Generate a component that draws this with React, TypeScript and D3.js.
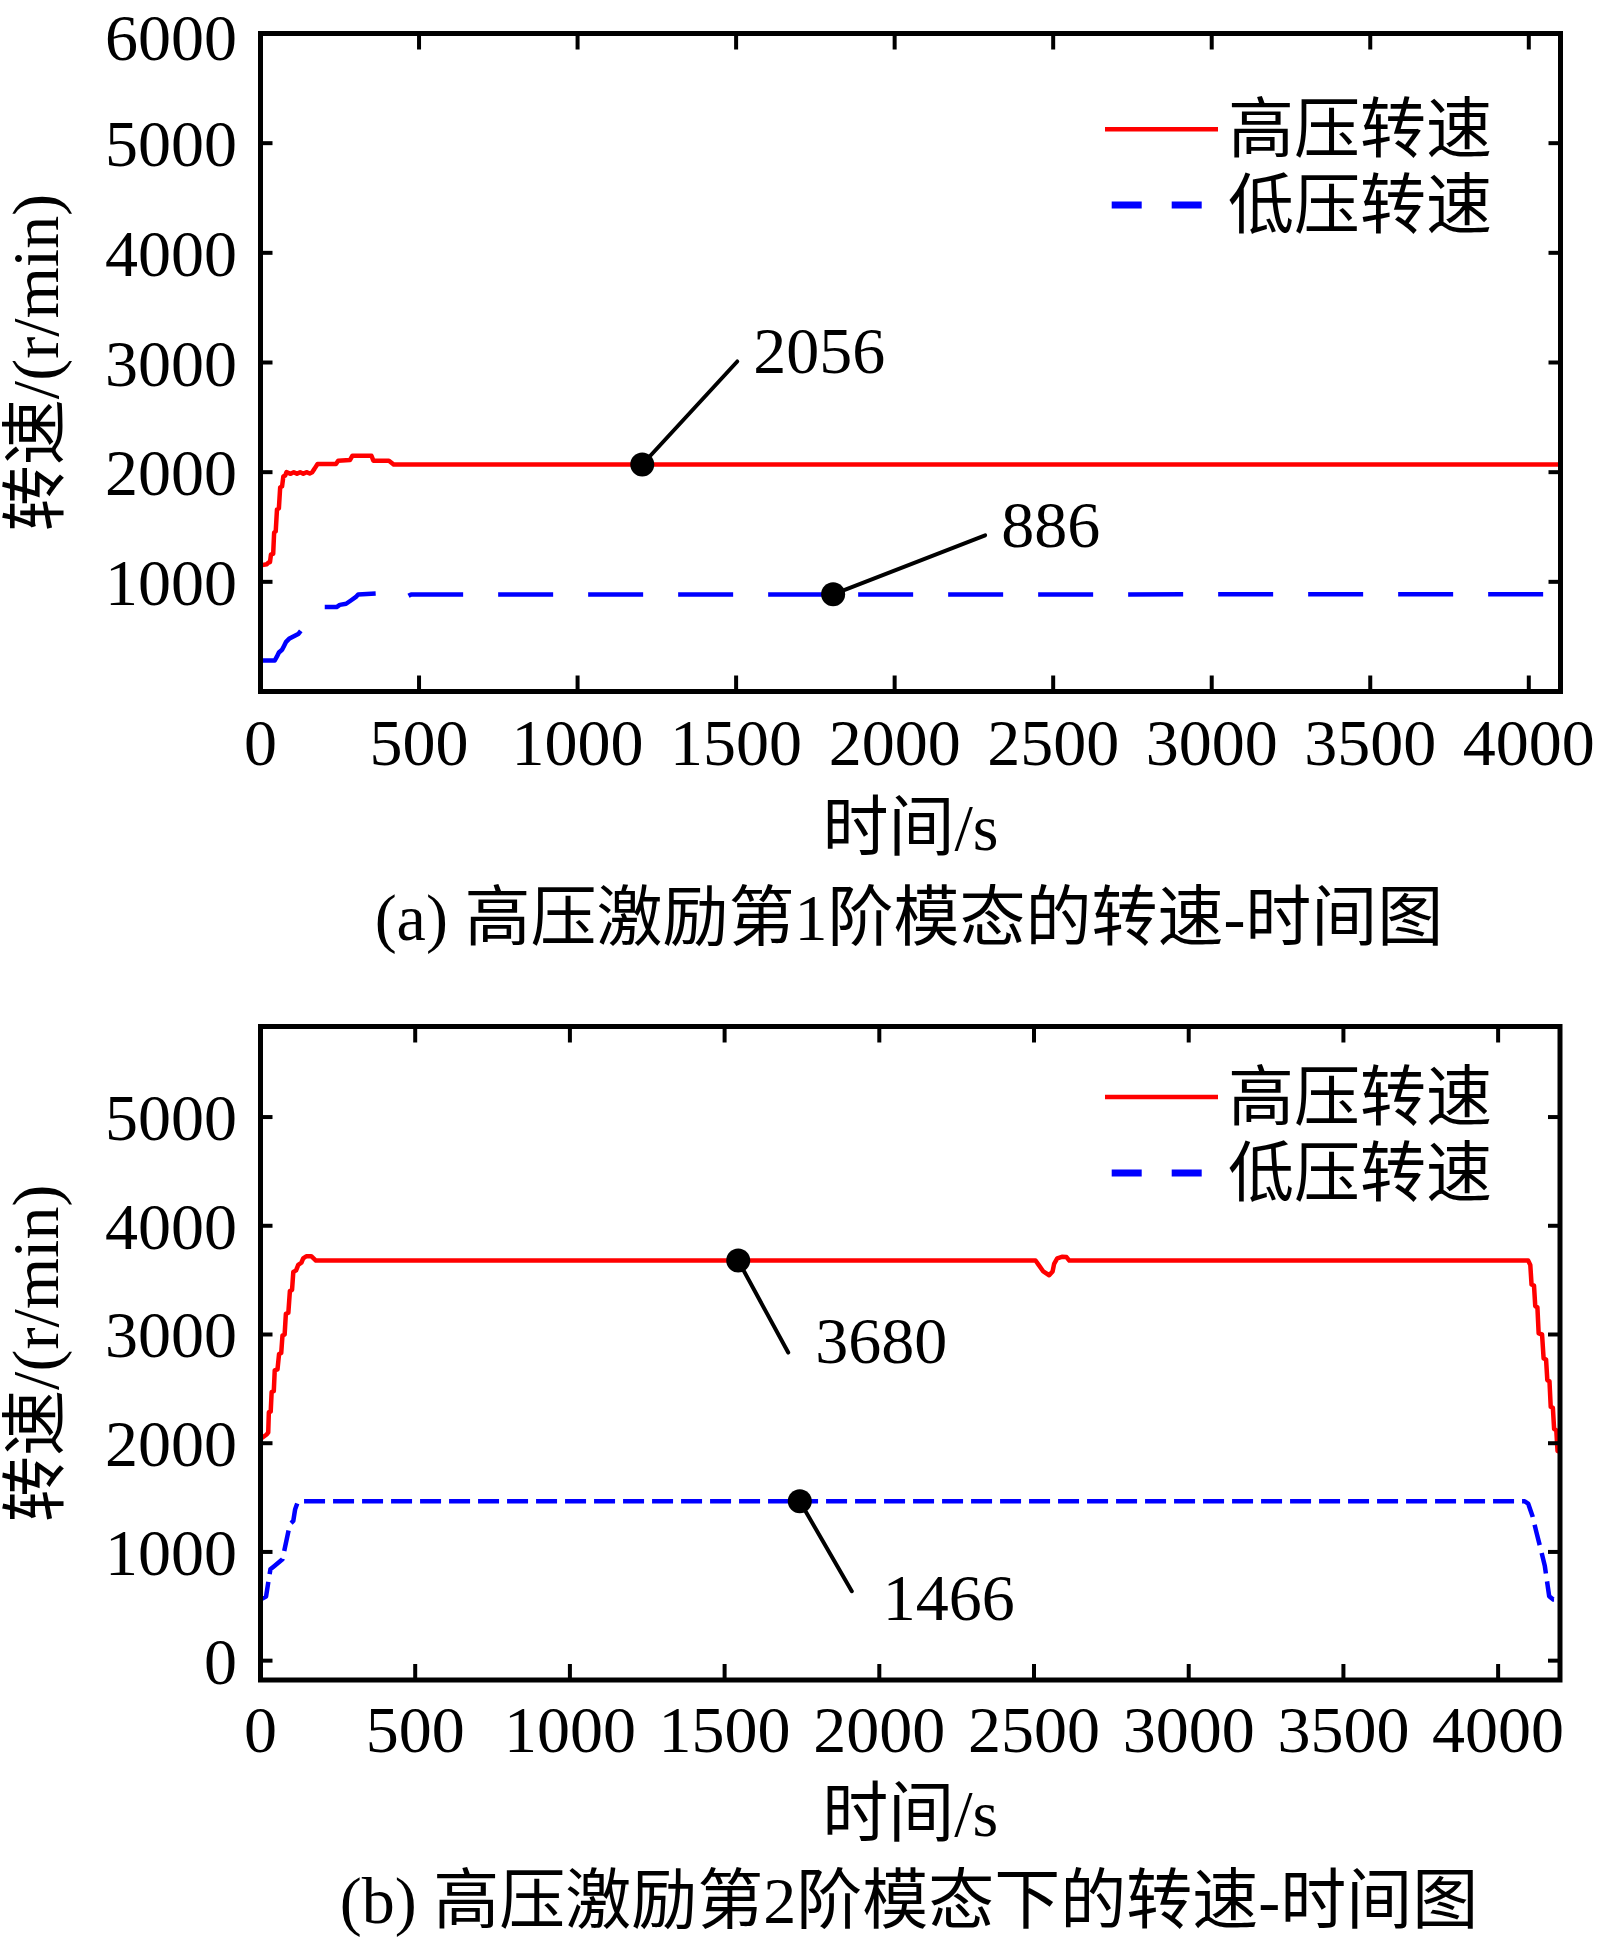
import React from 'react';
import * as d3 from 'd3';

// ---------- data: panel (a) ----------
const hpA_t = [0, 20, 25, 30, 33, 40, 43, 48, 52, 58, 62, 68, 72, 78, 82, 95, 105, 115, 125, 135, 145, 155, 163, 170, 180, 238, 245, 282, 290, 350, 356, 405, 420, 4100];
const hpA_v = [1150, 1160, 1175, 1180, 1250, 1255, 1450, 1460, 1660, 1670, 1860, 1870, 1960, 1970, 2000, 1985, 2000, 1985, 2000, 1985, 2000, 1988, 2000, 2030, 2075, 2075, 2105, 2110, 2150, 2150, 2105, 2105, 2070, 2070];
const lpA_t = [0, 45, 52, 58, 68, 75, 80, 90, 119, 182, 195, 240, 250, 270, 285, 300, 308, 400, 430, 440, 460, 475, 4100];
const lpA_v = [283, 283, 320, 355, 380, 420, 450, 480, 524, 755, 770, 770, 790, 800, 830, 860, 885, 900, 905, 870, 862, 885, 886];

// ---------- data: panel (b) ----------
const hpB_t = [0, 20, 25, 27, 33, 36, 43, 46, 55, 60, 67, 71, 78, 82, 90, 95, 102, 106, 115, 122, 132, 138, 148, 164, 179, 2505, 2515, 2530, 2549, 2560, 2565, 2575, 2590, 2605, 2614, 4097, 4104, 4108, 4116, 4120, 4127, 4131, 4142, 4147, 4155, 4159, 4166, 4170, 4177, 4181, 4188, 4192, 4200];
const hpB_v = [2040, 2080, 2100, 2285, 2290, 2470, 2480, 2670, 2680, 2820, 2830, 2990, 3000, 3190, 3200, 3400, 3410, 3575, 3590, 3640, 3660, 3700, 3720, 3720, 3680, 3680, 3640, 3580, 3545, 3580, 3650, 3700, 3715, 3712, 3680, 3680, 3640, 3460, 3450, 3260, 3250, 3010, 3000, 2780, 2770, 2580, 2570, 2335, 2325, 2130, 2120, 1930, 1920];
const lpB_t = [0, 18, 24, 32, 45, 71, 95, 106, 112, 120, 125, 4086, 4097, 4111, 4124, 4140, 4151, 4165, 4178, 4200];
const lpB_v = [563, 590, 700, 840, 870, 932, 1255, 1285, 1393, 1455, 1466, 1466, 1445, 1331, 1178, 1000, 870, 593, 563, 563];

// ---------- axes ----------
const xDomainA = [0, 4100];
const yDomainA = [0, 6000];
const xDomainB = [0, 4200];
const yDomainB = [-178, 5833];
const xTicks = [0, 500, 1000, 1500, 2000, 2500, 3000, 3500, 4000];
const yTicksA = [0, 1000, 2000, 3000, 4000, 5000, 6000];
const yTickLabelsA = ['', '1000', '2000', '3000', '4000', '5000', '6000'];
const yTicksB = [0, 1000, 2000, 3000, 4000, 5000];
const yTickLabelsB = ['0', '1000', '2000', '3000', '4000', '5000'];

// ---------- text ----------
const legendLabels = ['高压转速', '低压转速'];
const xTitle = '时间/s';
const yTitle = '转速/(r/min)';
const captionA = '(a) 高压激励第1阶模态的转速-时间图';
const captionB = '(b) 高压激励第2阶模态下的转速-时间图';

// ---------- annotations ----------
const annotA_t = [1204, 1806];
const annotA_v = [2070, 886];
const annotA_label = ['2056', '886'];
const annotB_t = [1544, 1743];
const annotB_v = [3680, 1466];
const annotB_label = ['3680', '1466'];

const FONT = "'Liberation Serif', 'Times New Roman', 'Noto Sans CJK SC', serif";
const FS = 66;
const RED = '#ff0000';
const BLUE = '#0000ff';

type PanelProps = {
  hpT: number[]; hpV: number[]; lpT: number[]; lpV: number[];
  xDomain: number[]; yDomain: number[];
  yTicks: number[]; yTickLabels: string[];
  box: { l: number; r: number; t: number; b: number };
  lpDash: string;
  annT: number[]; annV: number[]; annLabel: string[];
  annOff: { lx: number; ly: number; tx: number; ty: number }[];
  legendY: number[];
  xLabelBaseline: number;
  xTitleBaseline: number;
  caption: string;
  captionBaseline: number;
};

function Panel(p: PanelProps) {
  const x = d3.scaleLinear().domain(p.xDomain).range([p.box.l, p.box.r]);
  const y = d3.scaleLinear().domain(p.yDomain).range([p.box.b, p.box.t]);
  const line = d3.line<[number, number]>().x(d => x(d[0])).y(d => y(d[1]));
  const hp = line(p.hpT.map((t, i) => [t, p.hpV[i]] as [number, number])) || '';
  const lp = line(p.lpT.map((t, i) => [t, p.lpV[i]] as [number, number])) || '';
  const xTickLen = 16;
  const yTickLen = 12;
  const cx = (p.box.l + p.box.r) / 2;
  const cy = (p.box.t + p.box.b) / 2;
  return (
    <g>
      {/* data */}
      <path d={hp} fill="none" stroke={RED} strokeWidth={4.5} strokeLinejoin="round" />
      <path d={lp} fill="none" stroke={BLUE} strokeWidth={4.5} strokeDasharray={p.lpDash} strokeLinejoin="round" />
      {/* annotations */}
      {p.annT.map((t, i) => {
        const px = x(t);
        const py = y(p.annV[i]);
        const o = p.annOff[i];
        return (
          <g key={'a' + i}>
            <line x1={px} y1={py} x2={px + o.lx} y2={py + o.ly} stroke="#000" strokeWidth={4} strokeLinecap="round" />
            <circle cx={px} cy={py} r={12} fill="#000" />
            <text x={px + o.tx} y={py + o.ty} fontSize={FS} fontFamily={FONT} fill="#000">{p.annLabel[i]}</text>
          </g>
        );
      })}
      {/* ticks */}
      {xTicks.map(t => (
        <g key={'xt' + t}>
          <line x1={x(t)} x2={x(t)} y1={p.box.b} y2={p.box.b - xTickLen} stroke="#000" strokeWidth={4} />
          <line x1={x(t)} x2={x(t)} y1={p.box.t} y2={p.box.t + xTickLen} stroke="#000" strokeWidth={4} />
          <text x={x(t)} y={p.xLabelBaseline} textAnchor="middle" fontSize={FS} fontFamily={FONT} fill="#000">{String(t)}</text>
        </g>
      ))}
      {p.yTicks.map((t, i) => (
        <g key={'yt' + t}>
          <line x1={p.box.l} x2={p.box.l + yTickLen} y1={y(t)} y2={y(t)} stroke="#000" strokeWidth={4} />
          <line x1={p.box.r} x2={p.box.r - yTickLen} y1={y(t)} y2={y(t)} stroke="#000" strokeWidth={4} />
          <text x={237} y={Math.max(y(t) + 23, 60)} textAnchor="end" fontSize={FS} fontFamily={FONT} fill="#000">{p.yTickLabels[i]}</text>
        </g>
      ))}
      {/* frame */}
      <rect x={p.box.l} y={p.box.t} width={p.box.r - p.box.l} height={p.box.b - p.box.t} fill="none" stroke="#000" strokeWidth={5} />
      {/* legend */}
      <line x1={1105} x2={1218} y1={p.legendY[0]} y2={p.legendY[0]} stroke={RED} strokeWidth={4.5} />
      <line x1={1111.7} x2={1201.7} y1={p.legendY[1]} y2={p.legendY[1]} stroke={BLUE} strokeWidth={7} strokeDasharray="30 30" />
      {legendLabels.map((s, i) => (
        <text key={'lg' + i} x={1228} y={p.legendY[i] + 23} fontSize={FS} fontFamily={FONT} fill="#000">{s}</text>
      ))}
      {/* axis titles */}
      <text x={cx} y={p.xTitleBaseline} textAnchor="middle" fontSize={FS} fontFamily={FONT} fill="#000">{xTitle}</text>
      <text transform={`translate(58,${cy}) rotate(-90)`} textAnchor="middle" fontSize={FS} fontFamily={FONT} fill="#000">{yTitle}</text>
      <text x={909} y={p.captionBaseline} textAnchor="middle" fontSize={FS} fontFamily={FONT} fill="#000">{p.caption}</text>
    </g>
  );
}

export default function App() {
  return (
    <svg width={1598} height={1950} viewBox="0 0 1598 1950" style={{ position: 'absolute', left: 0, top: 0, background: '#fff', display: 'block' }}>
      <rect x={0} y={0} width={1598} height={1950} fill="#fff" />
      <Panel
        hpT={hpA_t} hpV={hpA_v} lpT={lpA_t} lpV={lpA_v}
        xDomain={xDomainA} yDomain={yDomainA}
        yTicks={yTicksA} yTickLabels={yTickLabelsA}
        box={{ l: 260.5, r: 1560.5, t: 33.5, b: 691.5 }}
        lpDash="55 35"
        annT={annotA_t} annV={annotA_v} annLabel={annotA_label}
        annOff={[{ lx: 95, ly: -103, tx: 111, ty: -91 }, { lx: 152, ly: -59, tx: 168, ty: -47 }]}
        legendY={[129.3, 205]}
        xLabelBaseline={765}
        xTitleBaseline={850}
        caption={captionA}
        captionBaseline={940}
      />
      <Panel
        hpT={hpB_t} hpV={hpB_v} lpT={lpB_t} lpV={lpB_v}
        xDomain={xDomainB} yDomain={yDomainB}
        yTicks={yTicksB} yTickLabels={yTickLabelsB}
        box={{ l: 260.5, r: 1560, t: 1026.5, b: 1680 }}
        lpDash="21 8"
        annT={annotB_t} annV={annotB_v} annLabel={annotB_label}
        annOff={[{ lx: 50, ly: 92, tx: 77, ty: 102 }, { lx: 52, ly: 90, tx: 83, ty: 119 }]}
        legendY={[1097, 1173]}
        xLabelBaseline={1752}
        xTitleBaseline={1836}
        caption={captionB}
        captionBaseline={1923}
      />
    </svg>
  );
}
